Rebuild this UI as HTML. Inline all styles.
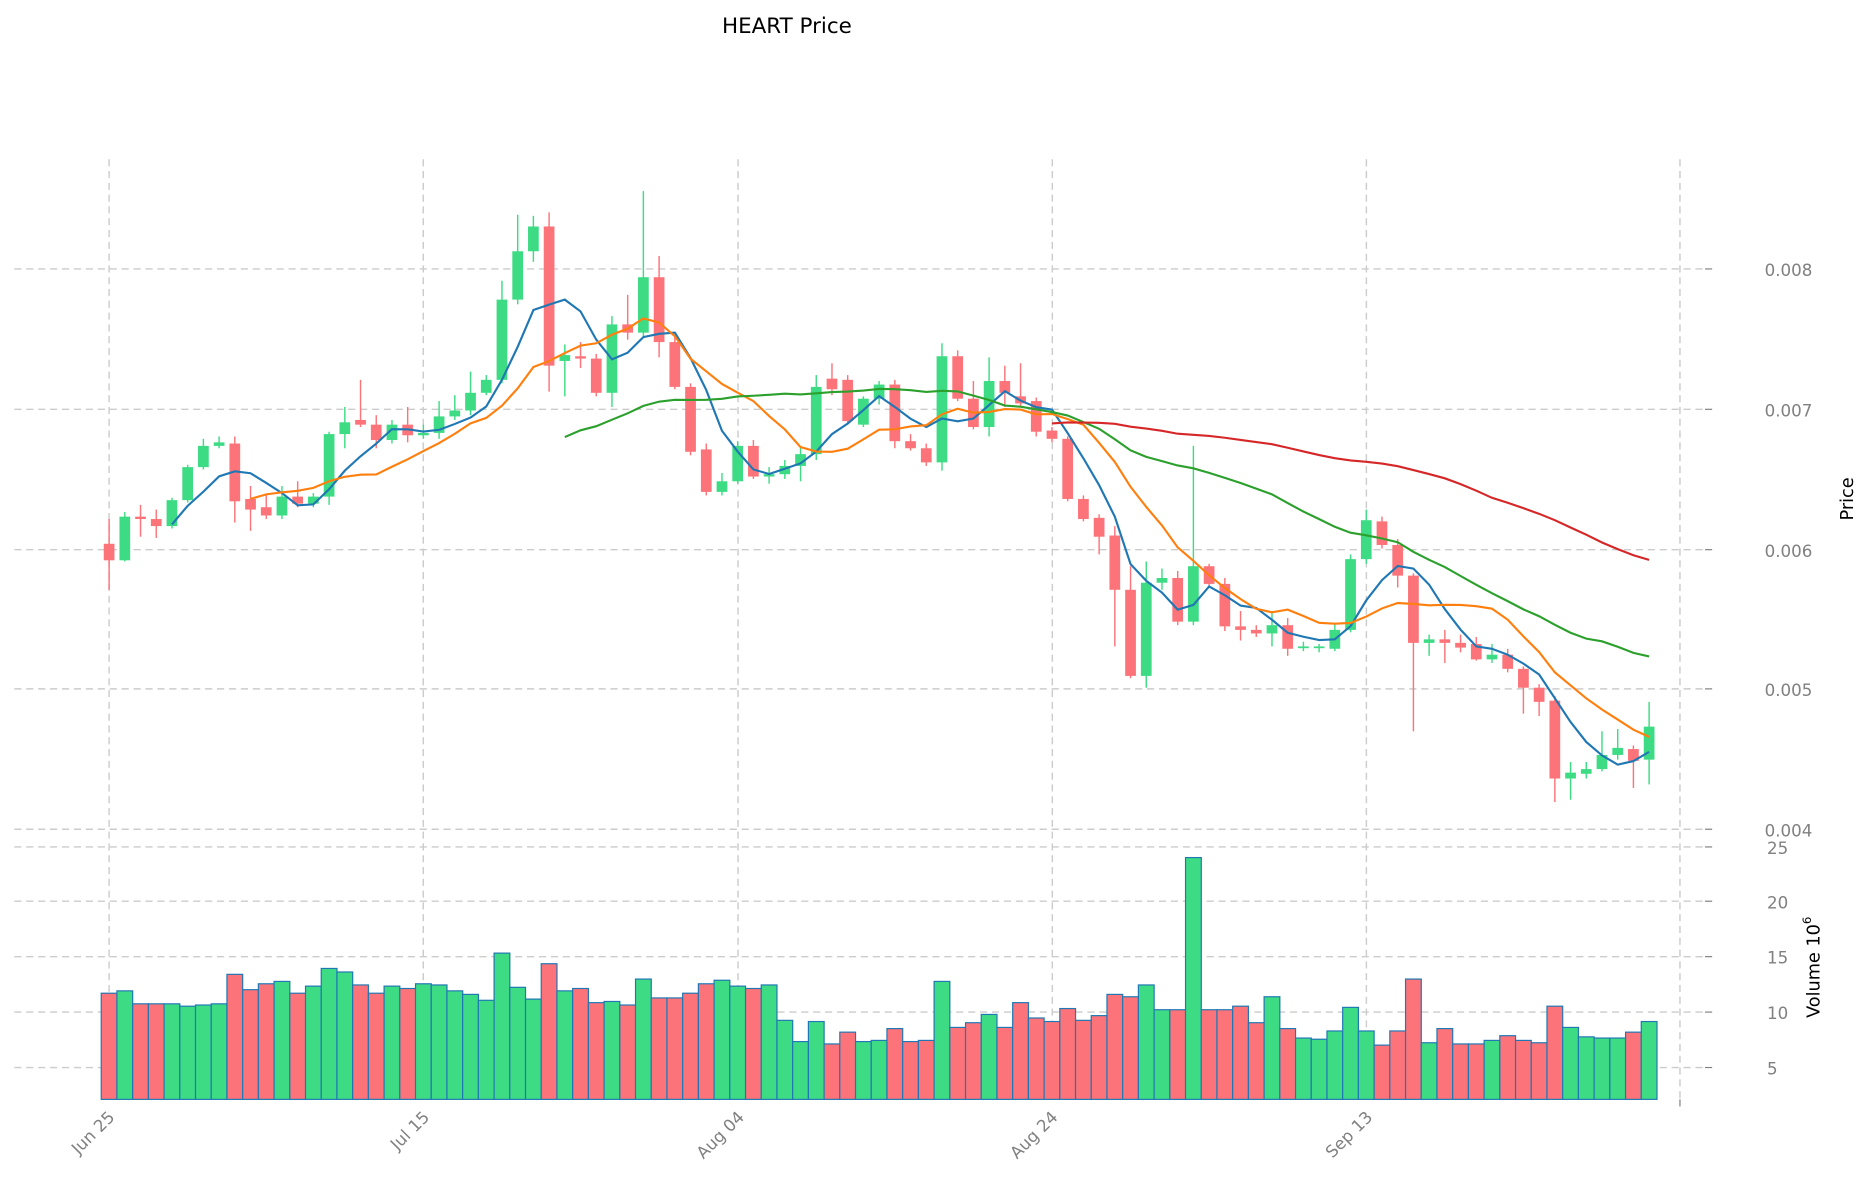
<!DOCTYPE html>
<html><head><meta charset="utf-8"><style>
html,body{margin:0;padding:0;background:#fff}
svg{display:block}
text{font-family:"DejaVu Sans","Liberation Sans",sans-serif}
</style></head><body>
<svg id="s" width="1860" height="1202" viewBox="0 0 1560 1019" preserveAspectRatio="none" xmlns="http://www.w3.org/2000/svg">
<rect width="1560" height="1019" fill="#fff"/>
<g id="grid"></g>
<g id="vol"></g>
<g id="candles"></g>
<g id="ma"></g>
<text x="660" y="28" font-size="18" text-anchor="middle" fill="#000">HEART Price</text>
<g fill="#808080" font-size="14">
<text x="1480" y="234">0.008</text>
<text x="1480" y="353">0.007</text>
<text x="1480" y="472">0.006</text>
<text x="1480" y="590">0.005</text>
<text x="1480" y="709">0.004</text>
<text x="1482" y="724">25</text>
<text x="1482" y="770">20</text>
<text x="1482" y="817">15</text>
<text x="1482" y="864">10</text>
<text x="1482" y="911">5</text>
</g>
<text transform="translate(1554,423) rotate(-90)" font-size="15" text-anchor="middle" fill="#000">Price</text>
<text transform="translate(1526,820) rotate(-90)" font-size="15" text-anchor="middle" fill="#000">Volume  10<tspan dy="-7" font-size="10">6</tspan></text>
<g fill="#808080" font-size="14" text-anchor="end">
<text transform="translate(97,948) rotate(-45)">Jun 25</text>
<text transform="translate(361,948) rotate(-45)">Jul 15</text>
<text transform="translate(625,948) rotate(-45)">Aug 04</text>
<text transform="translate(888,948) rotate(-45)">Aug 24</text>
<text transform="translate(1152,948) rotate(-45)">Sep 13</text>
</g>
</svg>
<script>
var C=[[461,475,440,500],[475,438,434,476],[438,440,428,455],[440,446,432,456],[446,424,422,448],[424,396,394,426],[396,378,372,398],[378,375,370,380],[376,425,370,443],[423,432,412,450],[430,437,420,440],[437,421,412,440],[421,427,408,430],[427,421,418,430],[421,368,366,428],[368,358,345,380],[356,360,322,362],[360,373,352,380],[373,360,356,376],[360,369,345,375],[369,367,360,372],[367,353,340,372],[353,348,335,356],[348,333,315,352],[333,322,318,335],[322,254,238,325],[254,213,182,258],[213,192,183,222],[192,310,180,332],[306,301,292,336],[302,304,290,312],[304,333,300,336],[333,275,268,345],[275,282,250,288],[282,235,162,285],[235,290,217,303],[290,328,285,330],[328,383,325,386],[381,417,376,420],[417,408,401,420],[408,378,374,410],[378,404,373,406],[404,402,396,410],[402,395,390,406],[395,385,379,408],[385,328,318,390],[321,330,308,335],[322,357,318,360],[360,338,336,362],[338,326,323,343],[326,374,322,380],[374,380,368,382],[380,392,376,395],[392,302,291,399],[302,338,297,340],[338,362,323,364],[362,323,303,370],[323,333,310,345],[336,342,308,345],[340,366,337,370],[365,372,362,375],[372,423,370,425],[423,440,420,442],[439,455,436,470],[454,500,446,548],[500,573,480,575],[573,494,476,583],[494,490,482,500],[490,527,484,530],[527,480,378,530],[480,495,478,497],[495,531,490,535],[531,534,518,543],[534,537,530,540],[537,530,518,548],[530,550,524,556],[549,548,544,552],[549,548,546,553],[550,534,528,552],[534,474,470,536],[474,441,432,478],[442,462,438,465],[462,488,457,498],[488,545,486,620],[545,542,538,556],[542,545,534,562],[545,549,538,553],[546,559,540,560],[559,555,546,562],[555,567,550,570],[567,583,565,605],[583,595,580,607],[594,660,590,680],[660,655,646,678],[656,652,646,660],[652,640,620,654],[640,634,618,644],[635,645,632,668],[644,616,595,665]];
var V=[842,840,851,851,851,853,852,851,826,839,834,832,842,836,821,824,835,842,836,838,834,835,840,843,848,808,837,847,817,840,838,850,849,852,830,846,846,842,834,831,836,838,835,865,883,866,885,875,883,882,872,883,882,832,871,867,860,871,850,863,866,855,865,861,843,845,835,856,856,727,856,856,853,867,845,872,880,881,874,854,874,886,874,830,884,872,885,885,882,878,882,884,853,871,879,880,880,875,866];
var NS="http://www.w3.org/2000/svg";
function el(p,t,a){var e=document.createElementNS(NS,t);for(var k in a)e.setAttribute(k,a[k]);p.appendChild(e);return e;}
var G="#3ddc84",R="#fc7479";
function X(i){return 91.5+13.18*i;}
var g=document.getElementById('grid');
[228,347,466,584,703,718,764,811,858,905].forEach(function(y){el(g,'line',{x1:12,x2:1430,y1:y,y2:y,stroke:'#cccccc','stroke-dasharray':'6,4','stroke-width':1.2});el(g,'line',{x1:1430,x2:1436,y1:y,y2:y,stroke:'#808080'});});
[91.5,355,619,882.6,1146,1409].forEach(function(x){el(g,'line',{x1:x,x2:x,y1:135,y2:932,stroke:'#cccccc','stroke-dasharray':'6,4','stroke-width':1.2});});
el(g,'line',{x1:1409,x2:1409,y1:932,y2:938,stroke:'#808080'});
var v=document.getElementById('vol');
V.forEach(function(y,i){var c=C[i];var up=c[1]<=c[0];el(v,'rect',{x:X(i)-6.6,y:y,width:13.2,height:932-y,fill:up?G:R,stroke:'#1f77b4','stroke-width':1});});
var cg=document.getElementById('candles');
C.forEach(function(c,i){var up=c[1]<=c[0];var col=up?G:R;var x=X(i);
el(cg,'line',{x1:x,x2:x,y1:c[2],y2:c[3],stroke:col,'stroke-width':1.2});
var t=Math.min(c[0],c[1]),h=Math.max(Math.abs(c[1]-c[0]),1.5);
el(cg,'rect',{x:x-4.5,y:t,width:9,height:h,fill:col});});
var mg=document.getElementById('ma');
[[5,'#1f77b4'],[10,'#ff7f0e'],[30,'#2ca02c'],[61,'#d62728']].forEach(function(m){var w=m[0],pts=[];
for(var i=w-1;i<C.length;i++){var s=0;for(var j=i-w+1;j<=i;j++)s+=C[j][1];pts.push(X(i).toFixed(1)+','+(s/w).toFixed(1));}
el(mg,'polyline',{points:pts.join(' '),fill:'none',stroke:m[1],'stroke-width':1.8});});
</script>
</body></html>
